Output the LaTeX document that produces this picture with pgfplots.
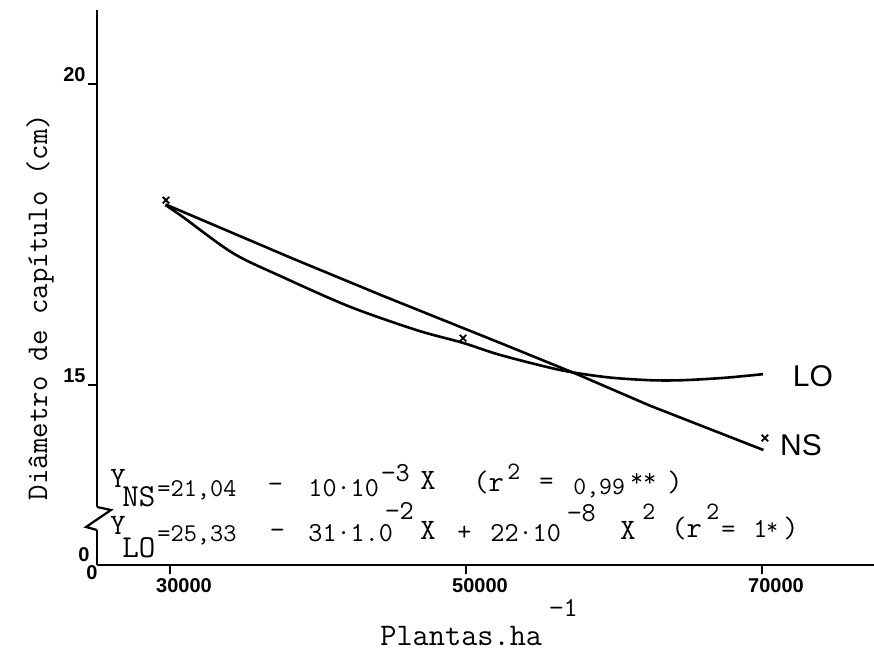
\documentclass[border=0pt]{standalone}
\usepackage{pgfplots}
\pgfplotsset{compat=1.18}
\usepackage{fontspec}
\setmainfont{Liberation Mono}
\newfontfamily\sansf{Liberation Sans}
\newfontfamily\monof{Latin Modern Mono}
\newcommand\E[4]{\node[anchor=base west, inner sep=0pt, font=\monof\fontsize{#1}{#1}\selectfont] at (#2pt,#3pt) {#4};}
\begin{document}
\begin{tikzpicture}
\begin{axis}[
  scale only axis, width=388.5pt, height=277.5pt,
  xmin=25070, xmax=77570, ymin=12.01, ymax=21.23,
  axis x line=bottom, axis y line=left,
  axis line style={-, line width=1.3pt},
  scaled x ticks=false,
  xtick={30000,50000,70000}, xticklabels={30000,50000,70000},
  ytick={15,20}, yticklabels={15,20},
  tick align=outside, major tick length=4.5pt,
  every tick/.style={black, line width=1pt},
  /pgf/number format/assume math mode=true,
  xticklabel style={font=\sansf\bfseries\fontsize{10}{10}\selectfont, anchor=north, inner sep=0pt, xshift=7pt, yshift=-2pt},
  yticklabel style={font=\sansf\bfseries\fontsize{10}{10}\selectfont, anchor=south east, inner sep=0pt, xshift=-1pt, yshift=1pt},
  clip=false,
]
% LO (quadratic fit)
\addplot[smooth, line width=1.3pt] coordinates {
 (29700,17.99) (30880,17.79) (34260,17.19) (37640,16.79) (42160,16.30)
 (46690,15.91) (49800,15.70) (52300,15.50) (56350,15.25) (59500,15.13)
 (62430,15.08) (64660,15.08) (67500,15.12) (70070,15.18)};
% NS (linear fit)
\addplot[line width=1.3pt] coordinates {
 (29700,18.00) (38300,17.10) (44400,16.48) (52300,15.70) (57500,15.18)
 (62400,14.66) (70100,13.92)};
% observed means
\addplot[only marks, mark=x, mark size=2.3pt, mark options={line width=0.9pt}] coordinates {
 (29730,18.07) (49800,15.78) (70200,14.12)};
\end{axis}
% axis break on y
\fill[white] (-2pt,17.5pt) rectangle (2pt,29pt);
\draw[line width=1.1pt] (0,29pt) -- (7pt,27.5pt) -- (-5.5pt,19pt) -- (0,17.5pt);
% zero labels
\node[font=\sansf\bfseries\fontsize{10}{10}\selectfont, inner sep=0pt] at (-6.5pt,5pt) {0};
\node[font=\sansf\bfseries\fontsize{10}{10}\selectfont, inner sep=0pt] at (-2.5pt,-4pt) {0};
% axis labels
\node[rotate=90, font=\monof\fontsize{15}{15}\selectfont, inner sep=0pt] at (-28.5pt,129pt) {Diâmetro de capítulo (cm)};
\E{15.7}{141.5}{-40.5}{Plantas.ha}
\E{13.7}{226}{-26}{−1}
% curve labels
\node[font=\sansf\fontsize{15}{15}\selectfont, inner sep=0pt] at (358pt,94.5pt) {LO};
\node[font=\sansf\fontsize{15}{15}\selectfont, inner sep=0pt] at (352pt,60pt) {NS};
% equation NS
\E{14.8}{6.5}{38.5}{Y}
\E{16}{12.5}{29}{NS}
\E{12.8}{30}{34}{=21,04}
\E{13.7}{85.5}{36}{−}
\E{13.7}{105.5}{34}{10·10}
\E{13.7}{142}{41.5}{−3}
\E{14.8}{161.5}{37.5}{X}
\E{14.8}{188}{36.5}{(r}
\E{12.5}{205}{42.5}{2}
\E{13.7}{221}{37.5}{=}
\E{12.5}{238}{35}{0,99}
\E{12.5}{266.5}{39}{**}
\E{14.8}{285}{36.5}{)}
% equation LO
\E{14.8}{6.5}{15}{Y}
\E{16}{12.5}{3.5}{LO}
\E{12.8}{30}{11.5}{=25,33}
\E{13.7}{86.5}{13}{−}
\E{13.7}{105.5}{11.5}{31·1.0}
\E{13.7}{144}{22.5}{−2}
\E{14.8}{161.5}{12.5}{X}
\E{13.7}{180}{12}{+}
\E{13.7}{196.5}{11.5}{22·10}
\E{13.7}{235}{21.5}{−8}
\E{14.8}{261.5}{12.5}{X}
\E{12.5}{272.5}{22.5}{2}
\E{14.8}{287}{13.5}{(r}
\E{12.5}{304.5}{22.5}{2}
\E{13.7}{312}{13.5}{=}
\E{13.7}{328}{13.5}{1}
\E{11.4}{334.5}{15}{*}
\E{14.8}{343}{13.5}{)}
\pgfresetboundingbox
\path[use as bounding box] (-48.5pt,-44pt) rectangle (388.5pt,282.5pt);
\end{tikzpicture}
\end{document}
